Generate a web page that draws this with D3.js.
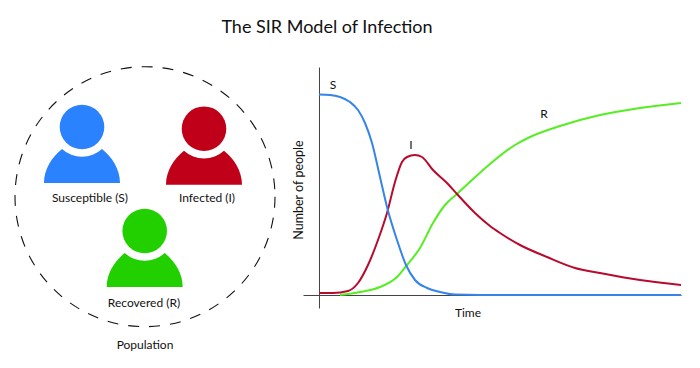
<!DOCTYPE html>
<html>
<head>
<meta charset="utf-8">
<script src="https://cdn.jsdelivr.net/npm/d3@7"></script>
<style>
  html, body { margin: 0; padding: 0; background: #fff; }
  text { font-family: Lato, "Open Sans", sans-serif; fill: #111; }
</style>
</head>
<body>
<div id="chart"></div>
<script>
const title = 'The SIR Model of Infection';
const groups = ['Susceptible (S)', 'Infected (I)', 'Recovered (R)'];
const groupColors = ['#2a82ff', '#c00018', '#22d000'];

const timeS = [0, 5.5, 10.5, 15.5, 19.5, 23, 26.5, 30.5, 34, 39, 43.5, 48, 54, 60.5, 68, 80.5, 181];
const valueS = [100.2, 100, 99, 96.5, 92.5, 86, 76, 59, 44, 27.5, 15, 7.5, 3.5, 1.5, 0.2, 0, 0];
const timeI = [0, 7, 14.5, 19.5, 24.5, 29.5, 34, 38, 41.5, 44, 48, 51.5, 57, 64, 69, 78, 85.5, 90.5, 100.5, 114, 128, 140.5, 160.5, 181];
const valueI = [1, 1, 2, 6, 15, 27.5, 41, 56.5, 66.5, 69, 70, 69, 62.5, 56, 50.5, 41, 34.5, 31, 25, 19, 13.5, 11, 7.5, 5];
const timeR = [10.5, 20.5, 30.5, 39, 44, 50.5, 57, 63, 69, 76.5, 85.5, 98, 105.5, 120.5, 140.5, 160.5, 181];
const valueR = [0, 1.5, 4, 9, 15, 23.5, 36, 45, 50.5, 57.5, 65.5, 75, 79, 84.5, 90, 93.5, 96];

const seriesColors = { S: '#3584ea', I: '#b80a2c', R: '#55ee22' };

const width = 700, height = 368;
const svg = d3.select('#chart').append('svg')
    .attr('width', width)
    .attr('height', height)
    .style('display', 'block');

svg.append('text')
    .attr('x', 327)
    .attr('y', 33)
    .attr('text-anchor', 'middle')
    .style('font-size', '18px')
    .text(title);

// population circle
svg.append('circle')
    .attr('cx', 145)
    .attr('cy', 196.7)
    .attr('r', 130)
    .attr('fill', 'none')
    .attr('stroke', '#111')
    .attr('stroke-width', 1.1)
    .attr('stroke-dasharray', '11,10');

svg.append('text')
    .attr('x', 145)
    .attr('y', 349)
    .attr('text-anchor', 'middle')
    .style('font-size', '12px')
    .text('Population');

// people icons
const iconCenters = [[82, 127], [204, 128.7], [144.7, 231]];
const labelCenters = [[90, 202], [207, 202], [144, 307]];
const body = 'M-38,56 C-38,42 -30,30 -20,22 A29.7,29.7 0 0 0 20,22 C30,30 38,42 38,56 Z';

groups.forEach((name, i) => {
    const g = svg.append('g')
        .attr('transform', `translate(${iconCenters[i][0]},${iconCenters[i][1]})`);
    g.append('circle').attr('r', 22.3).attr('fill', groupColors[i]);
    g.append('path').attr('d', body).attr('fill', groupColors[i]);

    svg.append('text')
        .attr('x', labelCenters[i][0])
        .attr('y', labelCenters[i][1])
        .attr('text-anchor', 'middle')
        .style('font-size', '12px')
        .text(name);
});

// scales, 2px per unit on both
const x = d3.scaleLinear().domain([-8, 181]).range([303, 681]);
const y = d3.scaleLinear().domain([-6.5, 114]).range([308, 67]);

// axes
svg.append('g')
    .attr('transform', `translate(0,${y(0)})`)
    .call(d3.axisBottom(x).tickValues([]).tickSizeOuter(0))
    .select('.domain').attr('stroke', '#444');
svg.append('g')
    .attr('transform', `translate(${x(0)},0)`)
    .call(d3.axisLeft(y).tickValues([]).tickSizeOuter(0))
    .select('.domain').attr('stroke', '#444');

svg.append('text')
    .attr('x', 468)
    .attr('y', 317)
    .attr('text-anchor', 'middle')
    .style('font-size', '12px')
    .text('Time');
svg.append('text')
    .attr('transform', 'translate(303,190) rotate(-90)')
    .attr('text-anchor', 'middle')
    .style('font-size', '12.5px')
    .text('Number of people');

// curves
const line = d3.line()
    .x(d => x(d[0]))
    .y(d => y(d[1]))
    .curve(d3.curveMonotoneX);

const curves = [
    { key: 'R', pts: d3.zip(timeR, valueR) },
    { key: 'I', pts: d3.zip(timeI, valueI) },
    { key: 'S', pts: d3.zip(timeS, valueS) }
];
svg.selectAll('.curve')
    .data(curves)
    .join('path')
    .attr('class', 'curve')
    .attr('d', d => line(d.pts))
    .attr('fill', 'none')
    .attr('stroke', d => seriesColors[d.key])
    .attr('stroke-width', 2);

// curve labels
svg.append('text').attr('x', 333).attr('y', 89).attr('text-anchor', 'middle').style('font-size', '12px').text('S');
svg.append('text').attr('x', 411).attr('y', 149).attr('text-anchor', 'middle').style('font-size', '12px').text('I');
svg.append('text').attr('x', 544).attr('y', 118).attr('text-anchor', 'middle').style('font-size', '12px').text('R');
</script>
</body>
</html>
